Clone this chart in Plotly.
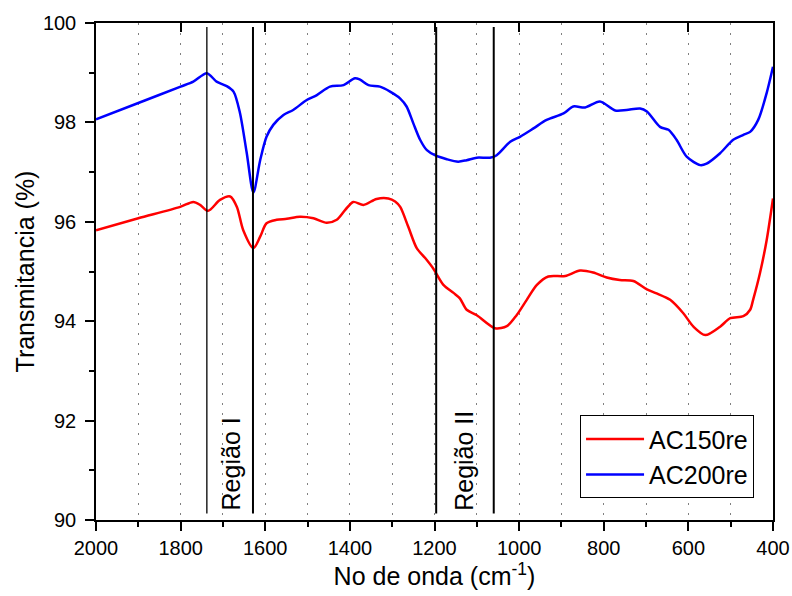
import plotly.graph_objects as go

# ---- data ----
wn_blue = [2000, 1900, 1800, 1770, 1738, 1715, 1691, 1675, 1660, 1644, 1628, 1612, 1597, 1581, 1557, 1534,
           1502, 1478, 1447, 1415, 1388, 1376, 1356, 1329, 1305, 1281, 1266, 1250, 1234, 1218, 1199, 1171,
           1144, 1124, 1100, 1069, 1053, 1021, 998, 966, 935, 895, 872, 844, 809, 773, 746, 714, 698, 667,
           647, 628, 604, 572, 557, 525, 494, 470, 454, 435, 415, 400]
t_blue = [98.06, 98.39, 98.72, 98.82, 98.99, 98.82, 98.73, 98.62, 98.20, 97.40, 96.59, 97.24, 97.71, 97.95,
          98.15, 98.25, 98.45, 98.55, 98.72, 98.75, 98.89, 98.86, 98.75, 98.72, 98.62, 98.48, 98.32, 97.98,
          97.65, 97.44, 97.34, 97.26, 97.21, 97.24, 97.29, 97.29, 97.34, 97.61, 97.71, 97.88, 98.05, 98.18,
          98.32, 98.30, 98.42, 98.24, 98.25, 98.28, 98.22, 97.91, 97.85, 97.65, 97.31, 97.14, 97.17, 97.38,
          97.65, 97.75, 97.81, 98.05, 98.59, 99.12]

wn_red = [2000, 1900, 1801, 1770, 1754, 1735, 1707, 1683, 1667, 1652, 1628, 1612, 1597, 1573, 1549, 1518,
          1486, 1455, 1431, 1411, 1392, 1368, 1337, 1309, 1293, 1281, 1262, 1242, 1222, 1203, 1179, 1155,
          1140, 1124, 1100, 1057, 1029, 1006, 982, 958, 931, 891, 856, 825, 793, 762, 730, 698, 675, 643,
          612, 588, 560, 525, 501, 470, 454, 447, 431, 415, 400]
t_red = [95.83, 96.07, 96.30, 96.40, 96.34, 96.22, 96.44, 96.51, 96.30, 95.83, 95.47, 95.70, 95.97, 96.04,
         96.06, 96.10, 96.07, 95.98, 96.04, 96.24, 96.40, 96.34, 96.46, 96.47, 96.41, 96.30, 95.90, 95.47,
         95.27, 95.06, 94.73, 94.57, 94.46, 94.23, 94.12, 93.86, 93.90, 94.12, 94.43, 94.73, 94.90, 94.91,
         95.02, 94.98, 94.88, 94.83, 94.81, 94.64, 94.56, 94.43, 94.16, 93.89, 93.72, 93.89, 94.06, 94.10,
         94.23, 94.43, 94.96, 95.63, 96.47]

region_lines = [1738, 1629, 1196, 1060]
region_widths = [1.3, 2, 2, 2]
region_labels = ["Região I", "Região II"]
region_label_x = [1680, 1132]

x_major = [2000, 1800, 1600, 1400, 1200, 1000, 800, 600, 400]
x_minor = [1900, 1700, 1500, 1300, 1100, 900, 700, 500]
y_major = [90, 92, 94, 96, 98, 100]
y_minor = [91, 93, 95, 97, 99]

FONT = "Liberation Sans, Arial, sans-serif"

fig = go.Figure()
fig.add_trace(go.Scatter(x=wn_red, y=t_red, mode="lines", name="AC150re",
                         line=dict(color="#ff0000", width=2.5, shape="spline", smoothing=0.8)))
fig.add_trace(go.Scatter(x=wn_blue, y=t_blue, mode="lines", name="AC200re",
                         line=dict(color="#0000ff", width=2.5, shape="spline", smoothing=0.8)))
# empty trace so the top (inside-tick) axis is drawn
fig.add_trace(go.Scatter(x=[], y=[], xaxis="x2", showlegend=False, hoverinfo="skip"))

for xv, w in zip(region_lines, region_widths):
    fig.add_shape(type="line", xref="x", yref="y", x0=xv, x1=xv, y0=99.92, y1=90.13,
                  line=dict(color="black", width=w))

for lab, xv in zip(region_labels, region_label_x):
    fig.add_annotation(x=xv, y=90.15, xref="x", yref="y", text=lab, textangle=-90,
                       showarrow=False, xanchor="center", yanchor="bottom",
                       font=dict(family=FONT, size=25, color="black"))

grid_style = dict(gridcolor="#808080", gridwidth=1.3, griddash="2px,8px")

fig.update_layout(
    width=792, height=596,
    margin=dict(l=96, r=19, t=23, b=76),
    plot_bgcolor="white", paper_bgcolor="white",
    font=dict(family=FONT, size=20, color="black"),
    xaxis=dict(range=[2000, 400], tickmode="array", tickvals=x_major, automargin=False,
               ticks="outside", ticklen=9, tickwidth=1.5, tickcolor="black",
               showline=True, linecolor="black", linewidth=1.5, mirror=True,
               showgrid=True, **grid_style,
               minor=dict(tickvals=x_minor, ticks="outside", ticklen=5, tickwidth=1.5, tickcolor="black",
                          showgrid=True, **grid_style),
               zeroline=False,
               title=dict(text="No de onda (cm<sup>-1</sup>)", font=dict(size=25), standoff=4),
               tickfont=dict(size=20)),
    xaxis2=dict(range=[2000, 400], overlaying="x", side="top", anchor="y", automargin=False,
                tickmode="array", tickvals=x_major[1:-1],
                ticks="inside", ticklen=9, tickwidth=1.5, tickcolor="black",
                showticklabels=False, showgrid=False, showline=False, zeroline=False),
    yaxis=dict(range=[90, 100], tickmode="array", tickvals=y_major, automargin=False,
               ticks="outside", ticklen=9, tickwidth=1.5, tickcolor="black", ticklabelstandoff=5,
               showline=True, linecolor="black", linewidth=1.5, mirror=True,
               showgrid=False, zeroline=False,
               minor=dict(tickvals=y_minor, ticks="outside", ticklen=5, tickwidth=1.5, tickcolor="black"),
               title=dict(text="Transmitancia (%)", font=dict(size=25), standoff=1),
               tickfont=dict(size=20)),
    legend=dict(x=0.972, y=0.044, xanchor="right", yanchor="bottom",
                bordercolor="black", borderwidth=1, bgcolor="white",
                font=dict(size=25), tracegroupgap=0, itemwidth=58),
    showlegend=True,
)

fig.write_html("out.html")
